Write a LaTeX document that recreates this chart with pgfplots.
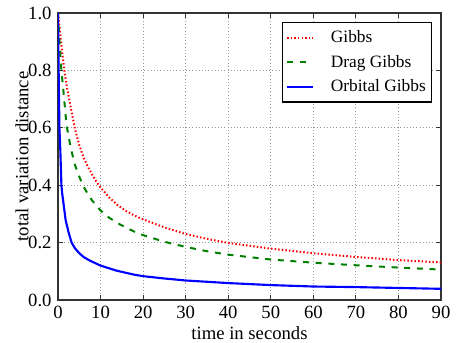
\documentclass[border=0pt]{standalone}
\usepackage{fontspec}
\setmainfont{Liberation Serif}
\usepackage{pgfplots}
\pgfplotsset{compat=1.18}
\definecolor{mplgreen}{rgb}{0,0.5,0}
\begin{document}
\fontsize{14}{16}\selectfont
\begin{tikzpicture}
\begin{axis}[
  scale only axis, width=287.25pt, height=215.25pt,
  xmin=0, xmax=90, ymin=0, ymax=1,
  xtick={0,10,20,30,40,50,60,70,80,90},
  ytick={0,0.2,0.4,0.6,0.8,1.0},
  yticklabel style={/pgf/number format/.cd,fixed,fixed zerofill,precision=1},
  /pgf/number format/assume math mode=true,
  grid=major, grid style={dotted, line width=0.6pt, black!40},
  axis line style={black!80, line width=1pt},
  tick style={black!80, line width=0.8pt},
  major tick length=4pt,
  tick label style={font=\fontsize{14}{16}\selectfont},
  xlabel={time in seconds}, ylabel={total variation distance},
  xlabel style={at={(axis description cs:0.5,-0.139)}, anchor=base, font=\fontsize{14}{16}\selectfont},
  ylabel style={at={(axis description cs:-0.0776,0.5)}, anchor=base, font=\fontsize{14}{16}\selectfont},
  legend style={at={(axis description cs:1,1)}, anchor=north east, xshift=-6.5pt, yshift=-7pt,
    draw=black, line width=0.8pt, font=\fontsize{13}{15}\selectfont, row sep=3.5pt,
    column sep=11pt, inner xsep=2.5pt, inner ysep=3.5pt},
  legend cell align=left,
  legend image code/.code={\draw[#1, mark=none] (0pt,0pt) -- (19pt,0pt);},
]
\coordinate (sw) at (rel axis cs:0,0);
\coordinate (ne) at (rel axis cs:1,1);
\addplot[red, line width=1.5pt, dash pattern=on 1.1pt off 1.6pt] coordinates {
(0,1.0) (0.5,0.93) (1,0.86) (1.5,0.80) (2,0.75) (3,0.67) (4,0.595) (5,0.54) (6,0.497)
(7,0.465) (8,0.438) (9,0.413) (10,0.392) (12,0.358) (14,0.331) (16,0.310) (18,0.294)
(20,0.281) (25,0.253) (30,0.230) (35,0.213) (40,0.199) (50,0.179) (60,0.163) (70,0.150)
(80,0.139) (90,0.131)};
\addlegendentry{Gibbs}
\addplot[mplgreen, line width=1.5pt, dash pattern=on 4.5pt off 5pt] coordinates {
(0,1.0) (0.4,0.89) (0.8,0.80) (1.2,0.74) (2,0.61) (3,0.53) (4,0.47) (5,0.43) (6,0.395)
(7,0.37) (8,0.347) (10,0.312) (12,0.287) (14,0.268) (16,0.252) (18,0.238) (20,0.226)
(25,0.203) (30,0.185) (35,0.170) (40,0.158) (50,0.141) (60,0.130) (70,0.121) (80,0.113)
(90,0.106)};
\addlegendentry{Drag Gibbs}
\addplot[blue, line width=1.6pt] coordinates {
(0,1.0) (0.15,0.8) (0.33,0.6) (0.55,0.52) (0.8,0.40) (1.0,0.37) (1.8,0.278) (2.5,0.235)
(3.2,0.20) (4,0.18) (5,0.163) (6,0.150) (7.5,0.137) (10,0.12) (13.6,0.103) (15,0.098)
(18,0.088) (20,0.083) (25,0.075) (30,0.068) (40,0.059) (50,0.052) (60,0.047) (70,0.045)
(80,0.042) (90,0.039)};
\addlegendentry{Orbital Gibbs}
\end{axis}
\pgfresetboundingbox
\path ([shift={(-43.5pt,-31.5pt)}]sw) rectangle ([shift={(19.5pt,9.75pt)}]ne);
\end{tikzpicture}
\end{document}
